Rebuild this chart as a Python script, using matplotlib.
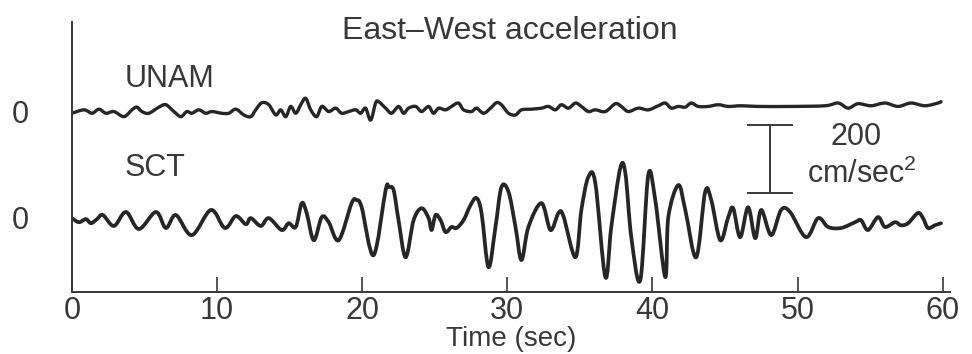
import matplotlib
matplotlib.use("Agg")
import matplotlib.pyplot as plt
from matplotlib.path import Path
from matplotlib.patches import PathPatch

plt.rcParams['font.family'] = ['Liberation Sans', 'DejaVu Sans']
plt.rcParams['mathtext.fontset'] = 'custom'
plt.rcParams['mathtext.rm'] = 'Liberation Sans'

# UNAM record (time in sec, acceleration in cm/sec^2)
unam_t = [0.00, 0.83, 1.38, 1.86, 2.34, 2.89, 3.58, 4.13, 4.47, 4.82, 5.30, 5.99,
          6.47, 7.02, 7.50, 7.91, 8.26, 8.74, 9.22, 9.64, 10.32, 10.81, 11.29, 11.84,
          12.32, 12.66, 13.08, 13.56, 14.04, 14.38, 14.73, 15.07, 15.42, 15.76, 16.10,
          16.45, 16.86, 17.21, 17.69, 18.17, 18.58, 19.06, 19.55, 19.89, 20.23, 20.58,
          20.92, 21.13, 21.61, 22.02, 22.50, 22.85, 23.19, 23.68, 24.09, 24.57, 24.91,
          25.26, 25.74, 26.15, 26.63, 26.98, 27.53, 27.87, 28.36, 28.84, 29.25, 29.59,
          30.08, 30.56, 30.97, 31.66, 32.35, 32.83, 33.31, 33.72, 34.21, 34.69, 35.10,
          35.58, 36.06, 36.75, 37.44, 37.85, 38.33, 39.02, 39.71, 40.40, 40.88, 41.29,
          41.78, 42.26, 42.67, 43.15, 43.84, 44.53, 45.22, 46.11, 47.28, 49.55, 51.89,
          52.79, 53.48, 54.16, 55.06, 56.02, 56.92, 57.81, 58.77, 59.67, 59.88]
unam_a = [-4, 6, -4, 8, -4, 1, -14, 6, 14, 1, -4, 14,
          21, 1, -14, 1, -4, 6, -4, 1, -4, -4, 8, -9,
          -14, 6, 27, 21, -9, 6, -14, 16, -4, 21, 40,
          6, -14, 16, 1, 11, -4, 1, 6, -4, 11, -24,
          26, 30, 11, -4, 16, -4, 11, 16, 1, 16, -4,
          11, 6, 16, 26, 6, 1, 11, -4, 11, 27, 21,
          -4, -9, 6, 8, 11, 16, 6, 21, 11, 26, 16,
          1, 6, 1, 24, 16, 1, 11, 6, 18, 26, 11,
          16, 14, 26, 16, 16, 21, 16, 18, 16, 16, 18,
          26, 11, 24, 18, 26, 16, 26, 18, 26, 30]

# SCT record
sct_t = [0.00, 0.48, 0.96, 1.31, 1.72, 2.13, 2.89, 3.72, 4.61, 5.78, 6.47, 7.16,
         8.26, 9.57, 10.53, 11.29, 11.98, 12.32, 13.01, 13.56, 14.45, 14.93, 15.42,
         15.83, 16.17, 16.66, 17.21, 17.69, 18.38, 19.27, 19.61, 19.96, 20.78, 21.61,
         21.82, 22.16, 22.50, 22.99, 23.54, 24.09, 24.57, 24.78, 25.05, 25.40, 25.74,
         26.15, 26.50, 26.98, 27.46, 27.87, 28.22, 28.70, 29.18, 29.59, 30.08, 30.56,
         30.97, 31.45, 32.35, 32.97, 33.52, 33.86, 34.69, 35.10, 35.58, 36.06, 36.75,
         37.16, 37.78, 38.13, 38.54, 39.16, 39.71, 40.19, 40.88, 41.09, 41.78, 42.26,
         43.01, 43.63, 44.05, 44.67, 45.22, 45.56, 46.04, 46.59, 47.08, 47.49, 48.18,
         48.86, 49.48, 50.58, 51.41, 52.10, 52.99, 53.96, 54.37, 54.85, 55.54, 56.02,
         56.71, 57.12, 57.61, 58.29, 58.64, 58.98, 59.46, 59.88]
sct_a = [-3, -15, -6, -18, -6, 6, -26, 15, -35, 15, -32, 6,
         -53, 21, -32, 3, -21, -3, -26, -3, -38, -18, -29,
         41, 12, -68, 0, -15, -68, 41, 50, 29, -112, 79,
         88, 79, -9, -118, -9, 26, -3, -38, 6, -9, -44,
         -29, -32, -9, 35, 56, 12, -147, -29, 88, 74, -29,
         -126, -29, 41, -38, 12, 3, -118, 21, 118, 100, -176,
         -29, 144, 129, -59, -185, 124, 50, -176, 0, 94, 21,
         -118, 74, 50, -68, 0, 26, -59, 29, -62, 21, -53,
         21, 15, -59, -3, -29, -32, -15, -9, -38, 0, -29,
         -15, -24, -18, 12, -3, -32, -24, -18]

unam_offset = 309
sct_offset = 0
scale_bar = 200  # cm/sec^2
x_ticks = [0, 10, 20, 30, 40, 50, 60]

ink = '#262626'
text_color = '#383838'


def smooth_trace(ax, xs, ys, offset, lw):
    """Draw the trace as a Catmull-Rom bezier curve through the samples."""
    pts = [(x, y + offset) for x, y in zip(xs, ys)]
    verts = [pts[0]]
    codes = [Path.MOVETO]
    n = len(pts)
    for i in range(n - 1):
        p0 = pts[max(i - 1, 0)]
        p1 = pts[i]
        p2 = pts[i + 1]
        p3 = pts[min(i + 2, n - 1)]
        c1 = (p1[0] + (p2[0] - p0[0]) / 6, p1[1] + (p2[1] - p0[1]) / 6)
        c2 = (p2[0] - (p3[0] - p1[0]) / 6, p2[1] - (p3[1] - p1[1]) / 6)
        verts += [c1, c2, p2]
        codes += [Path.CURVE4] * 3
    ax.add_patch(PathPatch(Path(verts, codes), fill=False, edgecolor=ink,
                           lw=lw, joinstyle='round', capstyle='round'))


fig = plt.figure(figsize=(9.72, 3.54), dpi=100)
ax = fig.add_axes([72 / 972, 62 / 354, 878 / 972, 270 / 354])

smooth_trace(ax, unam_t, unam_a, unam_offset, 2.4)
smooth_trace(ax, sct_t, sct_a, sct_offset, 2.7)

ax.set_xlim(0, 60.5)
ax.set_ylim(-220, 573)

# vertical scale bar
bar_x, bar_lo = 48.1, 70
ax.plot([bar_x, bar_x], [bar_lo, bar_lo + scale_bar], color=text_color, lw=1.4)
for yy in (bar_lo, bar_lo + scale_bar):
    ax.plot([bar_x - 1.5, bar_x + 1.5], [yy, yy], color=text_color, lw=1.4)
ax.text(54.0, 236, '200', ha='center', va='center', fontsize=22, color=text_color)
ax.text(54.4, 126, 'cm/sec$^\\mathregular{2}$', ha='center', va='center',
        fontsize=22, color=text_color)

ax.text(3.6, 405, 'UNAM', ha='left', va='center', fontsize=22, color=text_color)
ax.text(3.6, 145, 'SCT', ha='left', va='center', fontsize=22, color=text_color)
ax.text(30.2, 548, 'East\u2013West acceleration', ha='center', va='center',
        fontsize=23, color=text_color)

for side in ('top', 'right'):
    ax.spines[side].set_visible(False)
for side in ('left', 'bottom'):
    ax.spines[side].set_color(text_color)
    ax.spines[side].set_linewidth(1.4)

ax.set_xticks(x_ticks)
ax.set_xticklabels([str(v) for v in x_ticks])
ax.tick_params(axis='x', direction='in', length=11, width=1.2, colors=text_color,
               labelsize=22, pad=3)
ax.set_yticks([sct_offset, unam_offset])
ax.set_yticklabels(['0', '0'])
ax.tick_params(axis='y', length=0, labelsize=22, colors=text_color, pad=31)
ax.set_xlabel('Time (sec)', fontsize=20, color=text_color, labelpad=0)
ax.xaxis.set_label_coords(0.5, -0.125)

fig.savefig('out.png', dpi=100, facecolor='white')
